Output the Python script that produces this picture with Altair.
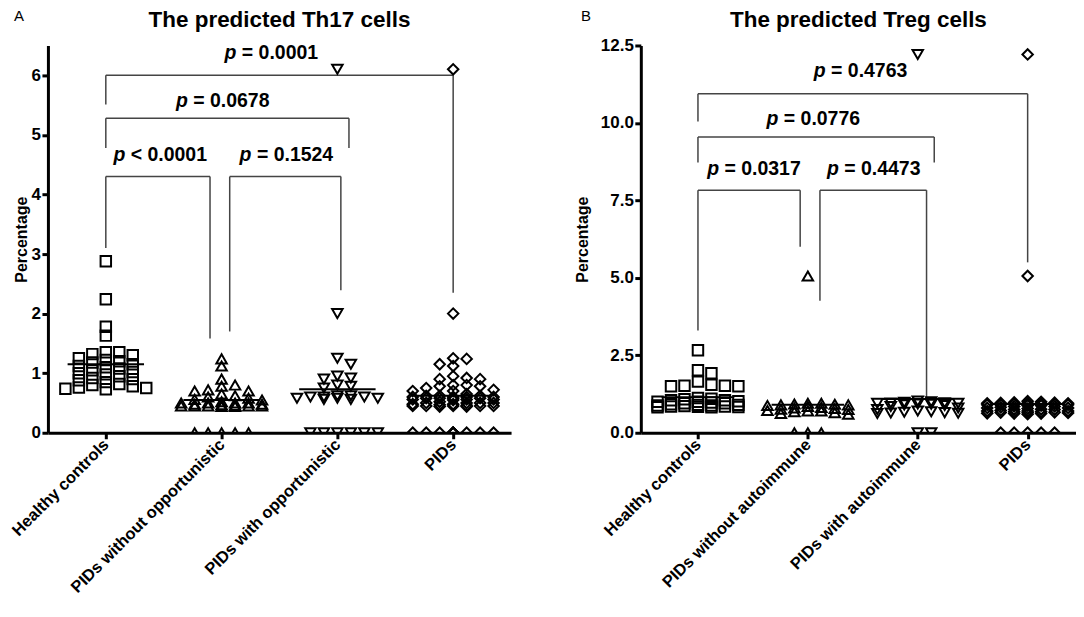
import json
import altair as alt
import pandas as pd

# ---------------- data ----------------
cats_th17 = ["Healthy controls", "PIDs without opportunistic", "PIDs with opportunistic", "PIDs"]
cats_treg = ["Healthy controls", "PIDs without autoimmune", "PIDs with autoimmune", "PIDs"]

th17_healthy = [2.88, 2.24, 1.78, 1.63, 1.35, 1.35, 1.32, 1.30, 1.25, 1.22, 1.20, 1.18, 1.15, 1.12,
                1.10, 1.08, 1.05, 1.02, 1.00, 0.98, 0.95, 0.92, 0.90, 0.88, 0.85, 0.82, 0.80, 0.78,
                0.76, 0.75, 0.74, 0.73]
th17_without = [1.24, 1.12, 0.90, 0.80, 0.78, 0.72, 0.70, 0.70, 0.65, 0.62, 0.60, 0.58, 0.56, 0.55,
                0.52, 0.50, 0.50, 0.50, 0.50, 0.48, 0.48, 0.47, 0.46, 0.45, 0.45, 0.45, 0.45, 0.45,
                0.44, 0.44, 0, 0, 0, 0, 0]
th17_with = [6.1, 2.0, 1.25, 1.15, 0.95, 0.92, 0.90, 0.80, 0.78, 0.75, 0.62, 0.62, 0.60, 0.60,
             0.60, 0.58, 0.58, 0.58, 0.56, 0.56, 0, 0, 0, 0, 0, 0]
th17_pids = th17_without + th17_with
th17_means = [1.15, 0.55, 0.73, 0.62]

treg_healthy = [2.66, 2.02, 1.92, 1.65, 1.55, 1.52, 1.52, 1.50, 1.50, 1.12, 1.10, 1.08, 1.05, 1.05,
                1.02, 1.00, 1.00, 0.98, 0.95, 0.95, 0.92, 0.90, 0.90, 0.88, 0.88, 0.86, 0.85, 0.85,
                0.84, 0.83, 0.82, 0.82]
treg_without = [5.06, 0.95, 0.95, 0.93, 0.92, 0.90, 0.90, 0.88, 0.85, 0.82, 0.80, 0.78, 0.76, 0.75,
                0.72, 0.70, 0.70, 0.68, 0.65, 0.62, 0.60, 0, 0, 0]
treg_with = [12.21, 1.02, 1.00, 0.98, 0.97, 0.96, 0.95, 0.95, 0.93, 0.92, 0.90, 0.88, 0.85, 0.80,
             0.75, 0.70, 0.68, 0.66, 0.65, 0.64, 0.63, 0.62, 0, 0]
treg_pids = treg_without + treg_with
treg_means = [1.15, 0.90, 1.09, 0.93]

# significance brackets (x in category units, y in data units)
th17_br_x1 = [1, 1, 1, 2.07]
th17_br_x2 = [4, 3.10, 1.90, 3.03]
th17_br_y = [6.0, 5.28, 4.30, 4.30]
th17_br_left_end = [5.51, 4.78, 3.1, 1.70]
th17_br_right_end = [2.35, 4.78, 1.58, 2.39]
th17_p_rel = ["= 0.0001", "= 0.0678", "< 0.0001", "= 0.1524"]
th17_p_x = [2.43, 2.01, 1.47, 2.56]
th17_p_y = [6.38, 5.57, 4.67, 4.67]

treg_br_x1 = [1, 1, 1, 2.11]
treg_br_x2 = [4, 3.15, 1.93, 3.08]
treg_br_y = [10.94, 9.55, 7.83, 7.83]
treg_br_left_end = [10.05, 8.72, 3.3, 4.26]
treg_br_right_end = [5.5, 8.72, 6.0, 1.15]
treg_p_rel = ["= 0.4763", "= 0.0776", "= 0.0317", "= 0.4473"]
treg_p_x = [2.48, 2.05, 1.51, 2.6]
treg_p_y = [11.66, 10.13, 8.52, 8.52]

SHAPES = ["square", "triangle-up", "triangle-down", "diamond"]
FONT = "Liberation Sans"
PLOT_H = 388


def swarm(values, center, step, px_per_unit, min_dy_px, max_k=3):
    placed = []
    order = [0]
    for k in range(1, max_k + 1):
        order += [k, -k]
    for v in sorted(values, reverse=True):
        best_x, best_d = center, -1.0
        for k in order:
            x = center + k * step
            d = min([abs(v - py) * px_per_unit for px, py in placed if abs(x - px) < step * 0.9]
                    or [1e9])
            if d >= min_dy_px:
                best_x = x
                break
            if d > best_d + 0.5:
                best_x, best_d = x, d
        placed.append((best_x, v))
    return placed


def panel(groups, means, cats, ymax, yvals, yfmt, width, xdom, title_pad, br, ptexts, title,
          letter):
    px_per_unit = PLOT_H / ymax
    px_per_cat = width / (xdom[1] - xdom[0])
    step = 13.5 / px_per_cat
    rows = []
    for gi, vals in enumerate(groups):
        for x, v in swarm(vals, gi + 1, step, px_per_unit, 7.0):
            rows.append({"x": x, "y": v, "grp": SHAPES[gi]})
    pts = pd.DataFrame(rows)
    mdf = pd.DataFrame({"xl": [i + 1 - 0.33 for i in range(4)],
                        "xr": [i + 1 + 0.33 for i in range(4)], "m": means})
    x1, x2, by, bl, brr = br
    bdf = pd.DataFrame({"x1": x1, "x2": x2, "y": by, "yl": bl, "yr": brr})
    prel, ppx, ppy = ptexts
    tdf = pd.DataFrame({"x": ppx, "y": ppy, "rel": prel, "p": ["p"] * len(prel)})

    label_expr = json.dumps(cats) + "[datum.value - 1]"
    xscale = alt.Scale(domain=xdom, nice=False, zero=False)
    yscale = alt.Scale(domain=[0, ymax], nice=False)
    xaxis = alt.Axis(values=[1, 2, 3, 4], labelExpr=label_expr, labelAngle=-45,
                     labelAlign="right", labelBaseline="middle", labelPadding=3,
                     labelOverlap=False, labelBound=False, labelLimit=400, labelFontSize=16.5)
    yaxis = alt.Axis(values=yvals, format=yfmt, titlePadding=title_pad, labelPadding=1.5,
                     labelFontSize=17)

    def X(f):
        return alt.X(f, type="quantitative", scale=xscale, axis=xaxis, title=None)

    def Y(f):
        return alt.Y(f, type="quantitative", scale=yscale, axis=yaxis, title="Percentage")

    points = alt.Chart(pts).mark_point(filled=False, strokeWidth=2, size=110, color="black",
                                      clip=True, opacity=1).encode(
        x=X("x"), y=Y("y"),
        shape=alt.Shape("grp:N", scale=alt.Scale(domain=SHAPES, range=SHAPES), legend=None))
    mean_rule = alt.Chart(mdf).mark_rule(color="black", strokeWidth=2).encode(
        x=X("xl"), x2="xr", y=Y("m"))
    hbar = alt.Chart(bdf).mark_rule(color="#444444", strokeWidth=1.5).encode(
        x=X("x1"), x2="x2", y=Y("y"))
    lleg = alt.Chart(bdf).mark_rule(color="#444444", strokeWidth=1.5).encode(
        x=X("x1"), y=Y("y"), y2="yl")
    rleg = alt.Chart(bdf).mark_rule(color="#444444", strokeWidth=1.5).encode(
        x=X("x2"), y=Y("y"), y2="yr")
    ptxt = alt.Chart(tdf).mark_text(font=FONT, fontSize=19.5, fontWeight="bold",
                                    fontStyle="italic", align="right", baseline="middle",
                                    dx=-35, color="black").encode(
        x=X("x"), y=Y("y"), text="p:N")
    rtxt = alt.Chart(tdf).mark_text(font=FONT, fontSize=19.5, fontWeight="bold",
                                    align="left", baseline="middle", dx=-29.6,
                                    color="black").encode(
        x=X("x"), y=Y("y"), text="rel:N")
    let = alt.Chart(pd.DataFrame({"t": [letter[0]]})).mark_text(
        font=FONT, fontSize=15, align="left", baseline="top", color="black").encode(
        x=alt.value(letter[1]), y=alt.value(-37), text="t:N")
    head = alt.Chart(pd.DataFrame({"t": [title]})).mark_text(
        font=FONT, fontSize=22.5, fontWeight="bold", align="center", baseline="top",
        color="black").encode(x=alt.value(width / 2), y=alt.value(-37), text="t:N")

    return alt.layer(hbar, lleg, rleg, mean_rule, points, ptxt, rtxt, let, head).properties(
        width=width, height=PLOT_H)


left = panel([th17_healthy, th17_without, th17_with, th17_pids], th17_means, cats_th17, 6.5,
             [0, 1, 2, 3, 4, 5, 6], "d", 464, [0.5, 4.5], 2,
             (th17_br_x1, th17_br_x2, th17_br_y, th17_br_left_end, th17_br_right_end),
             (th17_p_rel, th17_p_x, th17_p_y), "The predicted Th17 cells", ("A", -34))
right = panel([treg_healthy, treg_without, treg_with, treg_pids], treg_means, cats_treg, 12.5,
              [0, 2.5, 5, 7.5, 10, 12.5], ".1f", 436, [0.48, 4.44], 10,
              (treg_br_x1, treg_br_x2, treg_br_y, treg_br_left_end, treg_br_right_end),
              (treg_p_rel, treg_p_x, treg_p_y), "The predicted Treg cells", ("B", -60))

chart = alt.hconcat(left, right, spacing=63).properties(padding=0, background="white").configure_view(
    stroke=None).configure_axis(
    domainColor="black", domainWidth=3, tickColor="black", tickWidth=3, tickSize=6,
    labelFont=FONT, labelFontSize=16, labelFontWeight="bold", labelColor="black",
    titleFont=FONT, titleFontSize=16, titleFontWeight="bold", titleColor="black",
    grid=False, zindex=1)

chart.save("out.html", embed_options={"renderer": "svg", "actions": False})
